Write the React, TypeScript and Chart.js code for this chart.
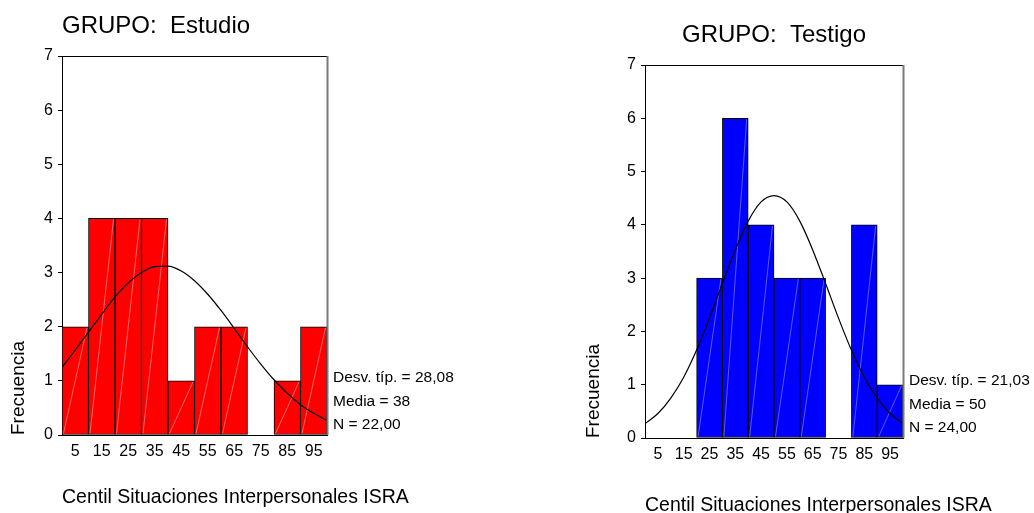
import React, { useEffect, useRef } from 'react';
import { Chart, registerables } from 'chart.js';

Chart.register(...registerables);

// ---------- data ----------
const binCenters = [5, 15, 25, 35, 45, 55, 65, 75, 85, 95];
const xTickLabels = ['5', '15', '25', '35', '45', '55', '65', '75', '85', '95'];
const estudioCounts = [2, 4, 4, 4, 1, 2, 2, 0, 1, 2];
const testigoCounts = [0, 0, 3, 6, 4, 3, 3, 0, 4, 1];

// normal curve overlay at these x positions
const curveX = [0, 5, 10, 15, 20, 25, 30, 35, 40, 45, 50, 55, 60, 65, 70, 75, 80, 85, 90, 95, 100];
const estudioCurve = [1.25, 1.57, 1.9, 2.23, 2.55, 2.81, 3.0, 3.11, 3.12, 3.03, 2.85, 2.6, 2.3, 1.97, 1.63, 1.31, 1.02, 0.77, 0.56, 0.4, 0.27];
const testigoCurve = [0.27, 0.46, 0.75, 1.14, 1.65, 2.25, 2.9, 3.53, 4.07, 4.43, 4.55, 4.43, 4.07, 3.53, 2.9, 2.25, 1.65, 1.14, 0.75, 0.46, 0.27];

const estudioStats = ['Desv. típ. = 28,08', 'Media = 38', 'N = 22,00'];
const testigoStats = ['Desv. típ. = 21,03', 'Media = 50', 'N = 24,00'];

const estudioTitle = 'GRUPO:  Estudio';
const testigoTitle = 'GRUPO:  Testigo';
const xAxisTitle = 'Centil Situaciones Interpersonales ISRA';
const yAxisTitle = 'Frecuencia';

const FONT = '"Liberation Sans", Arial, Helvetica, sans-serif';

const decorPlugin = {
  id: 'decor',
  afterDatasetDraw(chart: any, args: any, opts: any) {
    if (args.meta.type !== 'bar') return;
    const ctx = chart.ctx;
    ctx.save();
    ctx.strokeStyle = opts.hatch;
    ctx.lineWidth = 1;
    args.meta.data.forEach((el: any) => {
      const p = el.getProps(['x', 'y', 'base', 'width'], true);
      if (Math.abs(p.base - p.y) < 2) return;
      ctx.beginPath();
      ctx.moveTo(p.x - p.width / 2 + 1.5, p.base - 1);
      ctx.lineTo(p.x + p.width / 2 - 1.5, p.y + 1);
      ctx.stroke();
    });
    ctx.restore();
  },
  afterDraw(chart: any, _args: any, opts: any) {
    const ctx = chart.ctx;
    const a = chart.chartArea;
    ctx.save();
    // frame top + right
    ctx.strokeStyle = '#000';
    ctx.lineWidth = 1;
    ctx.beginPath();
    ctx.moveTo(a.left, Math.round(a.top) + 0.5);
    ctx.lineTo(a.right, Math.round(a.top) + 0.5);
    ctx.stroke();
    ctx.strokeStyle = '#7a7a7a';
    ctx.lineWidth = 2;
    ctx.beginPath();
    ctx.moveTo(a.right + 0.5, a.top);
    ctx.lineTo(a.right + 0.5, a.bottom);
    ctx.stroke();
    // title
    ctx.fillStyle = '#000';
    ctx.font = `24px ${FONT}`;
    ctx.textBaseline = 'alphabetic';
    if (opts.titleAlign === 'center') {
      ctx.textAlign = 'center';
      ctx.fillText(opts.title, (a.left + a.right) / 2, a.top - 23);
    } else {
      ctx.textAlign = 'left';
      ctx.fillText(opts.title, a.left, a.top - 23);
    }
    // x axis title (wider than the plot, so drawn without width limit)
    ctx.font = `19.5px ${FONT}`;
    ctx.textAlign = 'left';
    ctx.fillText(opts.xTitle, a.left, a.bottom + opts.xTitleOffset);
    // statistics
    ctx.font = `15.5px ${FONT}`;
    ctx.textAlign = 'left';
    const n = opts.stats.length;
    opts.stats.forEach((s: string, i: number) => {
      ctx.fillText(s, a.right + 6, a.bottom - 6 - (n - 1 - i) * 23.5);
    });
    ctx.restore();
  },
};

type HistProps = {
  left: number;
  w: number;
  h: number;
  counts: number[];
  curve: number[];
  color: string;
  hatch: string;
  title: string;
  titleAlign: string;
  stats: string[];
  padding: { top: number; right: number; left: number; bottom: number };
  yAxisWidth: number;
  xAxisHeight: number;
  yTitlePad: number;
  xTitleOffset: number;
};

function Histogram(props: HistProps) {
  const ref = useRef<HTMLCanvasElement>(null);
  useEffect(() => {
    if (!ref.current) return;
    const chart = new Chart(ref.current, {
      type: 'bar',
      data: {
        datasets: [
          {
            type: 'line',
            data: curveX.map((x, i) => ({ x, y: props.curve[i] })),
            borderColor: '#000',
            borderWidth: 1.2,
            pointRadius: 0,
            fill: false,
            cubicInterpolationMode: 'monotone',
            order: 0,
          } as any,
          {
            type: 'bar',
            data: binCenters.map((x, i) => ({ x, y: props.counts[i] })),
            backgroundColor: props.color,
            borderColor: '#000',
            borderWidth: 1,
            borderSkipped: false,
            barPercentage: 1,
            categoryPercentage: 1,
            order: 1,
          } as any,
        ],
      },
      options: {
        responsive: false,
        animation: false,
        events: [],
        layout: { padding: props.padding },
        plugins: {
          legend: { display: false },
          tooltip: { enabled: false },
          title: { display: false },
          decor: {
            hatch: props.hatch,
            title: props.title,
            titleAlign: props.titleAlign,
            stats: props.stats,
            xTitle: xAxisTitle,
            xTitleOffset: props.xTitleOffset,
          },
        } as any,
        scales: {
          x: {
            type: 'linear',
            min: 0,
            max: 100,
            offset: false,
            afterBuildTicks: (scale: any) => {
              scale.ticks = binCenters.map((v) => ({ value: v }));
            },
            afterFit: (scale: any) => {
              scale.height = props.xAxisHeight;
            },
            grid: { display: true, offset: false, drawOnChartArea: false, drawTicks: false },
            border: { display: true, color: '#000', width: 1 },
            ticks: {
              autoSkip: false,
              maxRotation: 0,
              padding: 7,
              color: '#000',
              font: { size: 16, family: FONT },
              callback: (v: any) => {
                const idx = binCenters.indexOf(Number(v));
                return idx >= 0 ? xTickLabels[idx] : '';
              },
            },
            title: { display: false },
          } as any,
          y: {
            type: 'linear',
            min: 0,
            max: 7,
            afterFit: (scale: any) => {
              scale.width = props.yAxisWidth;
            },
            grid: { display: true, drawOnChartArea: false, drawTicks: true, tickLength: 4, color: '#000' },
            border: { display: true, color: '#000', width: 1 },
            ticks: {
              stepSize: 1,
              padding: 5,
              color: '#000',
              font: { size: 16, family: FONT },
            },
            title: {
              display: true,
              text: yAxisTitle,
              align: 'start',
              color: '#000',
              font: { size: 19, family: FONT, lineHeight: 1 },
              padding: { top: props.yTitlePad, bottom: 0 },
            },
          } as any,
        },
      },
      plugins: [decorPlugin as any],
    });
    return () => chart.destroy();
  }, []);
  return (
    <div style={{ position: 'absolute', left: props.left, top: 0, width: props.w, height: props.h }}>
      <canvas ref={ref} width={props.w} height={props.h} style={{ width: props.w, height: props.h, display: 'block' }} />
    </div>
  );
}

export default function App() {
  return (
    <div
      style={{
        position: 'fixed',
        left: 0,
        top: 0,
        width: 1034,
        height: 513,
        background: '#fff',
        overflow: 'hidden',
      }}
    >
      <Histogram
        left={0}
        w={517}
        h={513}
        counts={estudioCounts}
        curve={estudioCurve}
        color="#ff0000"
        hatch="rgba(255,255,255,0.4)"
        title={estudioTitle}
        titleAlign="left"
        stats={estudioStats}
        padding={{ top: 56, right: 190, left: 0, bottom: 0 }}
        yAxisWidth={62}
        xAxisHeight={78}
        yTitlePad={9}
        xTitleOffset={68}
      />
      <Histogram
        left={517}
        w={517}
        h={513}
        counts={testigoCounts}
        curve={testigoCurve}
        color="#0000ff"
        hatch="rgba(255,255,255,0.35)"
        title={testigoTitle}
        titleAlign="center"
        stats={testigoStats}
        padding={{ top: 65, right: 131, left: 0, bottom: 0 }}
        yAxisWidth={128}
        xAxisHeight={75}
        yTitlePad={67.5}
        xTitleOffset={73}
      />
    </div>
  );
}
